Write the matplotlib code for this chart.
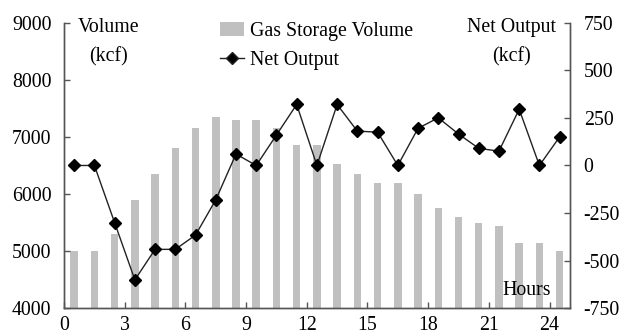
import matplotlib
matplotlib.use("Agg")
import matplotlib.pyplot as plt
from matplotlib.patches import Patch
from matplotlib.lines import Line2D
import numpy as np

plt.rcParams['font.family'] = ['Liberation Serif', 'DejaVu Serif']
plt.rcParams['axes.unicode_minus'] = False

hours = np.arange(25) + 0.5
volume = [5000, 5000, 5300, 5900, 6350, 6800, 7150, 7350, 7300, 7300,
          7150, 6850, 6850, 6530, 6350, 6200, 6200, 6000, 5750, 5600,
          5500, 5450, 5150, 5150, 5000]
net_output = [0, 0, -300, -600, -440, -440, -365, -180, 60, 0,
              160, 320, 0, 320, 180, 175, 0, 195, 250, 165,
              90, 75, 295, 0, 150]
x_ticks = [0, 3, 6, 9, 12, 15, 18, 21, 24]

fs = 14.3
fig = plt.figure(figsize=(6.22, 3.36), dpi=100)
ax = fig.add_axes([0.103, 0.082, 0.813, 0.851])
ax2 = ax.twinx()

ax.bar(hours, volume, width=0.37, color='#c0c0c0', zorder=1)
ax2.plot(hours, net_output, color='#222222', lw=1.0, marker='D',
         markersize=6, markerfacecolor='black', markeredgecolor='black')

ax.set_xlim(0, 25)
ax.set_ylim(4000, 9000)
ax2.set_ylim(-750, 750)
ax.set_xticks(x_ticks)
ax.set_yticks(np.arange(4000, 9001, 1000))
ax2.set_yticks(np.arange(-750, 751, 250))

for a in (ax, ax2):
    a.spines['top'].set_visible(False)
    for s in a.spines.values():
        s.set_color('#555555')
        s.set_linewidth(1.0)
    a.tick_params(direction='in', length=4, width=1, color='#555555',
                  labelsize=fs)
ax.tick_params(axis='y', pad=9)
ax.tick_params(axis='x', pad=5.5)
ax2.tick_params(axis='y', pad=10)

# axis captions, one line each
for x, lines in ((0.088, ("Volume", "(kcf)")), (0.885, ("Net Output", "(kcf)"))):
    for y, s in zip((0.981, 0.880), lines):
        ax.text(x, y, s, transform=ax.transAxes, ha='center', va='center',
                fontsize=fs)
ax.text(0.915, 0.03, "Hours", transform=ax.transAxes, ha='center',
        va='bottom', fontsize=fs)

handles = [Patch(facecolor='#c0c0c0', edgecolor='none'),
           Line2D([], [], color='#222222', lw=1.0, marker='D', markersize=6,
                  markerfacecolor='black')]
ax2.legend(handles, ["Gas Storage Volume", "Net Output"], loc='upper left',
           bbox_to_anchor=(0.274, 1.065), frameon=False, fontsize=fs,
           handlelength=1.2, handletextpad=0.3, labelspacing=0.5)

fig.savefig("out.png", dpi=100)
